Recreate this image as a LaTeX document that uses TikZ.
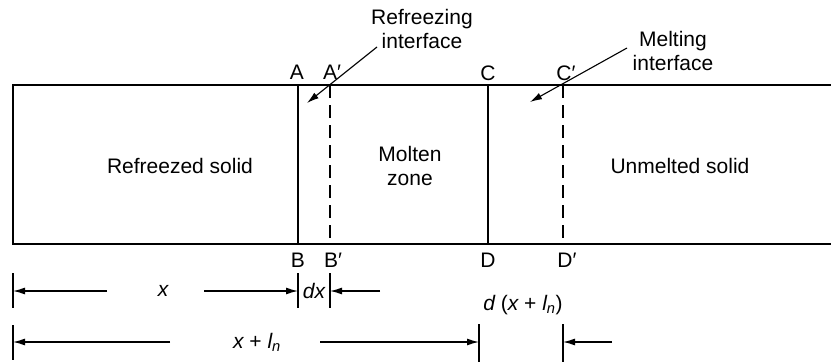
\documentclass[tikz,border=0pt]{standalone}
\usepackage{fontspec}
\setmainfont{Liberation Sans}
\usetikzlibrary{arrows.meta}
\begin{document}
\begin{tikzpicture}[x=1pt,y=-1pt,
  lbl/.style={font=\fontsize{21}{24}\selectfont, inner sep=0pt, align=center},
  solidline/.style={line width=1.6pt},
  dashline/.style={line width=1.6pt, dash pattern=on 13pt off 7pt},
  tickline/.style={line width=1.3pt},
  dimarrow/.style={line width=1.3pt, -{Latex[length=12pt,width=7pt]}},
  callout/.style={line width=1.1pt, -{Latex[length=12pt,width=7pt]}}]
\useasboundingbox (0,0) rectangle (831,364);

% bar
\coordinate (TL) at (13,85);
\coordinate (BL) at (13,244);
\coordinate (TR) at (831,85);
\coordinate (BR) at (831,244);
\draw[solidline] (TR) -- (TL) -- (BL) -- (BR);

% interfaces
\coordinate (A) at (298,85);  \coordinate (B) at (298,244);
\coordinate (Ap) at (330,85); \coordinate (Bp) at (330,244);
\coordinate (C) at (488,85);  \coordinate (D) at (488,244);
\coordinate (Cp) at (563,85); \coordinate (Dp) at (563,244);
\draw[solidline] (A) -- (B);
\draw[solidline] (C) -- (D);
\draw[dashline] (Ap) -- (Bp);
\draw[dashline] (Cp) -- (Dp);

% point labels
\node[lbl] (lA) at (297,72) {A};
\node[lbl] (lAp) at (332,72) {A′};
\node[lbl] (lC) at (488,73) {C};
\node[lbl] (lCp) at (566,73) {C′};
\node[lbl] (lB) at (298,260) {B};
\node[lbl] (lBp) at (333,260) {B′};
\node[lbl] (lD) at (488,260) {D};
\node[lbl] (lDp) at (567,260) {D′};

% region labels
\node[lbl] (ref) at (180,166) {Refreezed solid};
\node[lbl] (mol) at (410,166) {Molten\\zone};
\node[lbl] (unm) at (680,166) {Unmelted solid};

% callouts
\node[lbl] (rfi) at (422,29) {Refreezing\\interface};
\node[lbl] (mli) at (673,51) {Melting\\interface};
\coordinate (rs) at (377,47);
\coordinate (re) at (307,103);
\coordinate (ms) at (627,48);
\coordinate (me) at (530,102);
\draw[callout] (rs) -- (re);
\draw[callout] (ms) -- (me);

% dimension row 1
\coordinate (t1a) at (13,273);  \coordinate (t1b) at (13,308);
\coordinate (t2a) at (298,273); \coordinate (t2b) at (298,308);
\coordinate (t3a) at (330,273); \coordinate (t3b) at (330,308);
\draw[tickline] (t1a) -- (t1b);
\draw[tickline] (t2a) -- (t2b);
\draw[tickline] (t3a) -- (t3b);
\node[lbl] (lx) at (163,291) {\itshape x};
\node[lbl] (ldx) at (314,291) {\itshape dx};
\coordinate (x0) at (13,291);
\coordinate (x1) at (298,291);
\coordinate (x2) at (330,291);
\coordinate (a1s) at (107,291);
\coordinate (a2s) at (204,291);
\coordinate (a3s) at (380,291);
\draw[dimarrow] (a1s) -- (x0);
\draw[dimarrow] (a2s) -- (x1);
\draw[dimarrow] (a3s) -- (x2);

% dimension row 2
\coordinate (u1a) at (13,325);  \coordinate (u1b) at (13,360);
\coordinate (u2a) at (479,324); \coordinate (u2b) at (479,362);
\coordinate (u3a) at (563,324); \coordinate (u3b) at (563,362);
\draw[tickline] (u1a) -- (u1b);
\draw[tickline] (u2a) -- (u2b);
\draw[tickline] (u3a) -- (u3b);
\node[lbl] (lxl) at (257,342) {{\itshape x} + {\itshape l}\textsubscript{\itshape n}};
\node[lbl] (ldxl) at (523,305) {{\itshape d} ({\itshape x} + {\itshape l}\textsubscript{\itshape n})};
\coordinate (y0) at (13,342);
\coordinate (y1) at (479,342);
\coordinate (y2) at (563,342);
\coordinate (b1s) at (170,342);
\coordinate (b2s) at (320,342);
\coordinate (b3s) at (612,342);
\draw[dimarrow] (b1s) -- (y0);
\draw[dimarrow] (b2s) -- (y1);
\draw[dimarrow] (b3s) -- (y2);
\end{tikzpicture}
\end{document}
